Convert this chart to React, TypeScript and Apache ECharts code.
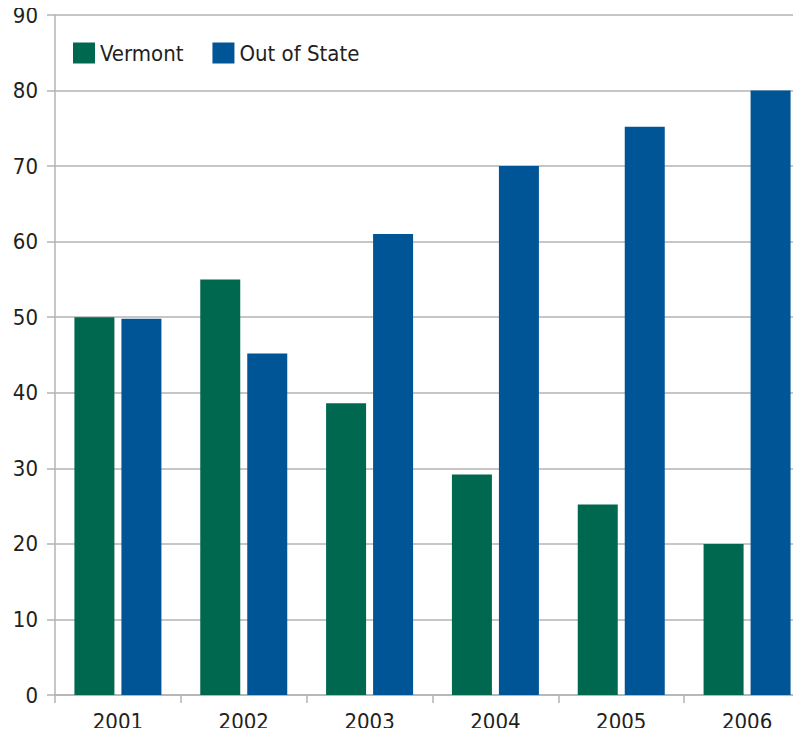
import React, { useEffect, useRef } from "react";
import * as echarts from "echarts";

const years = ["2001", "2002", "2003", "2004", "2005", "2006"];
const vermont = [50, 55, 38.6, 29.2, 25.2, 20];
const outOfState = [49.8, 45.2, 61, 70, 75.2, 80];

const FONT = "'DejaVu Sans Condensed', 'Liberation Sans Narrow', sans-serif";
const TEXT = "#231f20";
const GRID = "#b3b3b3";

export default function App() {
  const ref = useRef<HTMLDivElement>(null);
  useEffect(() => {
    if (!ref.current) return;
    const chart = echarts.init(ref.current, undefined, { renderer: "svg" });
    chart.setOption({
      animation: false,
      backgroundColor: "#ffffff",
      textStyle: { fontFamily: FONT, color: TEXT },
      legend: {
        left: 73,
        top: 42,
        padding: 0,
        itemWidth: 22,
        itemHeight: 21,
        itemGap: 29,
        icon: "rect",
        textStyle: { fontFamily: FONT, fontSize: 22, color: TEXT },
        data: ["Vermont", "Out of State"],
      },
      grid: { left: 55, right: 0, top: 15, bottom: 41, containLabel: false },
      xAxis: {
        type: "category",
        data: years,
        axisLine: { show: true, lineStyle: { color: GRID, width: 1.5 } },
        axisTick: { show: true, length: 8, lineStyle: { color: GRID, width: 1.5 } },
        axisLabel: { fontFamily: FONT, fontSize: 22, color: TEXT, margin: 15 },
      },
      yAxis: {
        type: "value",
        min: 0,
        max: 90,
        interval: 10,
        axisLine: { show: true, lineStyle: { color: GRID, width: 1.5 } },
        axisTick: { show: true, length: 8, lineStyle: { color: GRID, width: 1.5 } },
        axisLabel: { fontFamily: FONT, fontSize: 22, color: TEXT, margin: 17 },
        splitLine: { show: true, lineStyle: { color: GRID, width: 1.5 } },
      },
      series: [
        {
          name: "Vermont",
          type: "bar",
          data: vermont,
          barWidth: 40,
          barGap: "17.5%",
          itemStyle: { color: "#00684f" },
        },
        {
          name: "Out of State",
          type: "bar",
          data: outOfState,
          barWidth: 40,
          barGap: "17.5%",
          itemStyle: { color: "#005596" },
        },
      ],
    });
    return () => chart.dispose();
  }, []);
  return (
    <div style={{ width: 801, height: 736, margin: -8, overflow: "hidden", position: "relative" }}>
      <div ref={ref} style={{ width: 810, height: 736 }} />
    </div>
  );
}
